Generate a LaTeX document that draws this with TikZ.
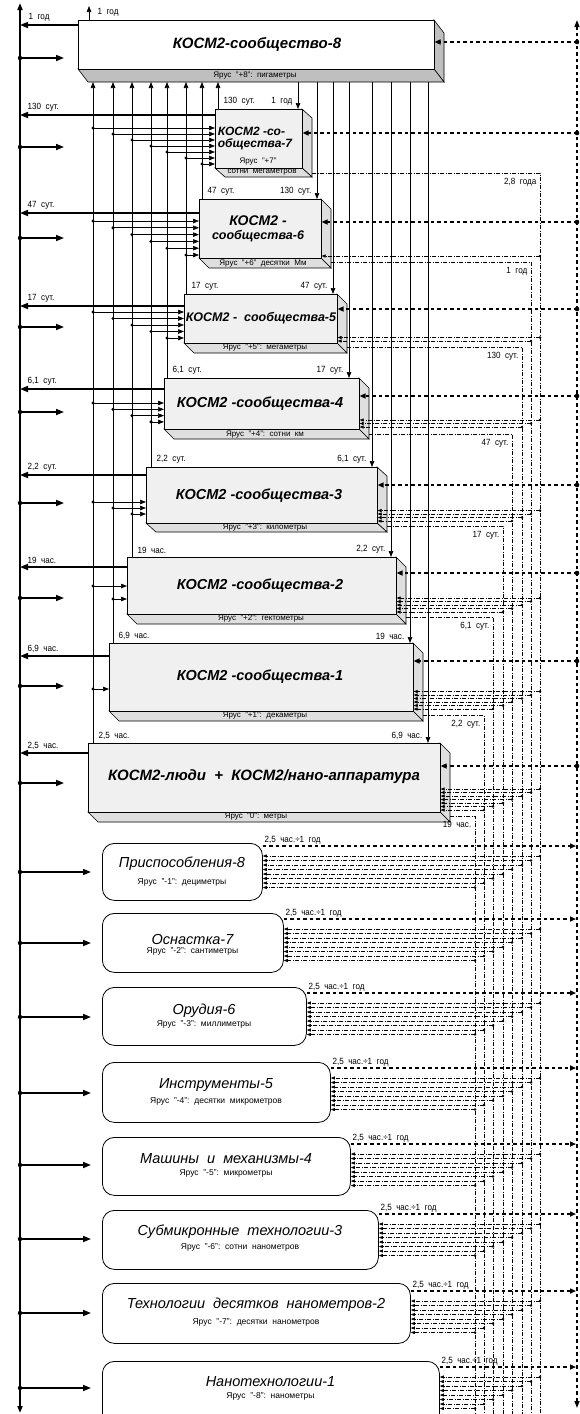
\documentclass[tikz,border=0pt]{standalone}
\usepackage{fontspec}
\setmainfont{Liberation Sans}
\newfontfamily\narrowsans[FakeStretch=0.9]{Liberation Sans}
\usetikzlibrary{arrows.meta,calc}

\tikzset{
  face/.style      = {draw, line width=0.6pt, anchor=north west, inner sep=0pt},
  side/.style      = {draw, line width=0.6pt},
  lowbox/.style    = {draw, line width=0.8pt, rounded corners=12pt, fill=white,
                      anchor=north west, inner sep=0pt},
  ttl/.style       = {font=\fontsize{14.5}{15}\selectfont\bfseries\itshape,
                      inner sep=0pt, align=center},
  lowttl/.style    = {font=\fontsize{14.5}{15}\selectfont\itshape, inner sep=0pt},
  yarus/.style     = {font=\fontsize{8}{9}\selectfont, inner sep=0pt},
  lowyarus/.style  = {font=\fontsize{8.5}{9}\selectfont, inner sep=0pt},
  tlbl/.style      = {font=\narrowsans\fontsize{9}{10}\selectfont, inner sep=0.5pt},
  axisline/.style  = {line width=1.8pt,
                      {Triangle[length=7pt,width=5pt]}-{Triangle[length=7pt,width=5pt]}},
  toaxis/.style    = {line width=1.6pt, -{Triangle[length=8pt,width=6pt]}},
  bus/.style       = {line width=0.7pt, -{Triangle[length=6pt,width=4.5pt]}},
  dashaxis/.style  = {line width=1.5pt, dash pattern=on 3.5pt off 3pt,
                      {Triangle[length=7pt,width=5pt]}-{Triangle[length=7pt,width=5pt]}},
  dasharr/.style   = {line width=1.5pt, dash pattern=on 3.5pt off 3pt,
                      -{Triangle[length=6pt,width=5pt]}},
  ddline/.style    = {line width=0.6pt, dash pattern=on 4pt off 1.5pt on 1pt off 1.5pt},
  ddarr/.style     = {ddline, -{Triangle[length=4pt,width=3pt]}},
}

\begin{document}
\begin{tikzpicture}[x=1pt, y=-1pt]
  \useasboundingbox (0,0) rectangle (580,1414);

  % ---------- axes --------------------------------------------------------
  \coordinate (axt)  at (20,3);
  \coordinate (axb)  at (20,1413);
  \coordinate (axrt) at (577,20);
  \coordinate (axrb) at (577,1408);
  \coordinate (axr)  at (576,0);
  \coordinate (sb)   at (0,82);
  \draw[axisline] (axb) -- (axt);
  \draw[dashaxis] (axrb) -- (axrt);

  % ---------- KOSM2 boxes -------------------------------------------------
  \foreach \n/\xa/\ya/\xb/\yb/\dz/\ffill/\sfill in {
      8/78/20/434/69/13/white/gray!50,
      7/215/109/302/168/9/gray!12/gray!25,
      6/199/199/321/258/10/gray!12/gray!25,
      5/184/294/337/343/10/gray!12/gray!25,
      4/164/378/359/429/10/gray!12/gray!25,
      3/146/467/377/523/9/gray!12/gray!25,
      2/127/557/396/614/10/gray!12/gray!25,
      1/109/643/413/711/10/gray!12/gray!25,
      0/88/743/440/812/10/gray!12/gray!25}{
    \pgfmathsetmacro\bw{\xb-\xa}
    \pgfmathsetmacro\bh{\yb-\ya}
    \filldraw[side, fill=\sfill] (\xb,\ya) -- (\xb+10,\ya+\dz) -- (\xb+10,\yb+\dz)
      -- (\xb,\yb) -- cycle;
    \filldraw[side, fill=\sfill] (\xa,\yb) -- (\xa+10,\yb+\dz) -- (\xb+10,\yb+\dz)
      -- (\xb,\yb) -- cycle;
    \node[face, fill=\ffill, minimum width=\bw pt, minimum height=\bh pt] (b\n)
      at (\xa,\ya) {};
  }

  \node[ttl, font=\fontsize{15}{16}\selectfont\bfseries\itshape] (t8) at (257,44)
    {КОСМ2-сообщество-8};
  \node[yarus] (y8) at (255,76) {Ярус\ \ "+8":\ \ пигаметры};
  \node[ttl, font=\fontsize{12}{12}\selectfont\bfseries\itshape, align=left] (t7)
    at (255,139) {КОСМ2 -со-\\общества-7};
  \node[yarus] (y7a) at (258,162) {Ярус\ \ "+7"};
  \node[yarus] (y7b) at (262,172) {сотни\ \ мегаметров};
  \node[ttl, font=\fontsize{14}{14}\selectfont\bfseries\itshape] (t6) at (258,229)
    {КОСМ2 -\\{\fontsize{12.5}{14}\selectfont сообщества-6}};
  \node[yarus] (y6) at (263,264) {Ярус\ \ "+6"\ \ десятки\ \ Мм};
  \node[ttl, font=\fontsize{12.5}{14}\selectfont\bfseries\itshape] (t5) at (261,318)
    {КОСМ2 -\ \ сообщества-5};
  \node[yarus] (y5) at (265,348) {Ярус\ \ "+5":\ \ мегаметры};
  \node[ttl] (t4) at (260,404) {КОСМ2 -сообщества-4};
  \node[yarus] (y4) at (265,435) {Ярус\ \ "+4":\ \ сотни\ \ км};
  \node[ttl] (t3) at (259,496) {КОСМ2 -сообщества-3};
  \node[yarus] (y3) at (265,528) {Ярус\ \ "+3":\ \ километры};
  \node[ttl] (t2) at (260,586) {КОСМ2 -сообщества-2};
  \node[yarus] (y2) at (261,619) {Ярус\ \ "+2":\ \ гектометры};
  \node[ttl] (t1) at (260,677) {КОСМ2 -сообщества-1};
  \node[yarus] (y1) at (265,716) {Ярус\ \ "+1":\ \ декаметры};
  \node[ttl, font=\fontsize{15}{16}\selectfont\bfseries\itshape] (t0) at (264,777)
    {КОСМ2-люди\ \ +\ \ КОСМ2/нано-аппаратура};
  \node[yarus] (y0) at (256,817) {Ярус\ \ "0":\ \ метры};

  % ---------- box 8: own arrows -------------------------------------------
  \coordinate (up8) at (89,20);
  \coordinate (up8e) at (89,6);
  \draw[bus] (up8) -- (up8e);
  \node[tlbl, anchor=west] (upl8) at (97,12) {1\ \ год};
  \coordinate (la8) at (78,25);
  \draw[toaxis] (la8) -- (la8 -| axt);
  \node[tlbl, anchor=south west] (lal8) at (28,22) {1\ \ год};
  \coordinate (ra8) at (20,58);
  \coordinate (rae8) at (64,58);
  \fill (ra8) circle (2.2pt);
  \draw[toaxis] (ra8) -- (rae8);

  % ---------- buses to and from box 8, left axis -------------------------
  \foreach \n/\bx/\dx/\ya/\ly/\ry/\tm/\td in {
      0/93/428/743/753/783/{2,5\ \ час.}/{6,9\ \ час.},
      1/113/410/643/656/686/{6,9\ \ час.}/{19\ \ час.},
      2/132/391/557/567/598/{19\ \ час.}/{2,2\ \ сут.},
      3/151/372/467/475/503/{2,2\ \ сут.}/{6,1\ \ сут.},
      4/167/349/378/389/412/{6,1\ \ сут.}/{17\ \ сут.},
      5/186/333/294/306/327/{17\ \ сут.}/{47\ \ сут.},
      6/202/317/199/213/238/{47\ \ сут.}/{130\ \ сут.},
      7/218/298/109/115/147/{130\ \ сут.}/{1\ \ год}}{
    \coordinate (up\n) at (\bx,\ya);
    \draw[bus] (up\n) -- (up\n |- sb);
    \node[tlbl, anchor=south west] (upl\n) at (\bx+5,\ya-3) {\tm};
    \coordinate (dn\n) at (\dx,\ya);
    \draw[bus] (dn\n |- sb) -- (dn\n);
    \node[tlbl, anchor=south east] (dnl\n) at (\dx-5,\ya-3) {\td};
    \ifnum\n>0
      \pgfmathtruncatemacro\nm{\n-1}
      \pgfmathsetmacro\brf{{0,689,586,502,403,312,221,128}[\n]}
      \pgfmathsetmacro\brs{{0,0,13,6,6.3,6.5,6.8,6}[\n]}
      \foreach \kk in {0,...,\nm}{
        \pgfmathsetmacro\kx{{93,113,132,151,167,186,202,218}[\kk]}
        \coordinate (br-\kk-\n) at (\kx,\brf+\kk*\brs);
        \fill (br-\kk-\n) circle (1.7pt);
        \draw[bus] (br-\kk-\n) -- (br-\kk-\n -| b\n.west);
      }
    \fi
    \path (b\n.north west) ++(0,\ly-\ya) coordinate (la\n);
    \draw[toaxis] (la\n) -- (la\n -| axt);
    \node[tlbl, anchor=south west] (lal\n) at (27,\ly-3) {\tm};
    \coordinate (ra\n) at (20,\ry);
    \coordinate (rae\n) at (64,\ry);
    \fill (ra\n) circle (2.2pt);
    \draw[toaxis] (ra\n) -- (rae\n);
  }

  % ---------- dash-dot lines on the right ---------------------------------
  \foreach \m/\xs/\xm/\ym/\tm in {
      7/312/540/173/{2,8\ \ года}, 6/331/531/262/{1\ \ год},
      5/347/522/347/{130\ \ сут.}, 4/369/512/434/{47\ \ сут.},
      3/387/503/526/{17\ \ сут.}, 2/406/493/617/{6,1\ \ сут.},
      1/423/484/715/{2,2\ \ сут.}, 0/450/475/816/{19\ \ час.}}{
    \coordinate (dds\m) at (\xs,\ym);
    \coordinate (ddc\m) at (\xm,\ym);
    \coordinate (dde\m) at (\xm,1414);
    \draw[ddline] (dds\m) -- (ddc\m) -- (dde\m);
    \node[tlbl, anchor=north east] (ddl\m) at (\xm-3,\ym+5) {\tm};
    \ifnum\m>0
      \pgfmathtruncatemacro\mm{\m-1}
      \foreach \jj in {0,...,\mm}{
        \pgfmathsetmacro\yy{{812,711,614,523,429,343,258,168}[\jj]-2-(\m-\jj-1)*3.5}
        \coordinate (dd-\m-\jj) at (\xm,\yy);
        \fill (dd-\m-\jj) circle (1.4pt);
        \draw[ddarr] (dd-\m-\jj) -- (dd-\m-\jj -| b\jj.east);
      }
    \fi
  }

  % ---------- dashed arrows from the right axis ---------------------------
  \foreach \n/\yy in {8/42, 7/133, 6/222, 5/309, 4/396, 3/485, 2/573, 1/661, 0/766}{
    \coordinate (da\n) at (577,\yy);
    \fill (da\n) circle (2.3pt);
    \draw[dasharr] (da\n) -- (da\n -| b\n.east);
  }

  % ---------- lower tiers -------------------------------------------------
  \foreach \lv/\ya/\xb/\bh/\ty/\sy/\ay/\ry/\ti/\su in {
      1/843/262/57/864/882/846/872/{Приспособления-8}/{Ярус\ \ "-1":\ \ дециметры},
      2/913/283/59/939/951/919/943/{Оснастка-7}/{Ярус\ \ "-2":\ \ сантиметры},
      3/987/306/58/1011/1024/993/1017/{Орудия-6}/{Ярус\ \ "-3":\ \ миллиметры},
      4/1062/330/60/1085/1101/1068/1093/{Инструменты-5}/{Ярус\ \ "-4":\ \ десятки\ \ микрометров},
      5/1137/350/58/1159/1173/1144/1165/{Машины\ \ и\ \ механизмы-4}/{Ярус\ \ "-5":\ \ микрометры},
      6/1210/378/59/1232/1247/1214/1239/{Субмикронные\ \ технологии-3}/{Ярус\ \ "-6":\ \ сотни\ \ нанометров},
      7/1283/410/60/1305/1322/1291/1313/{Технологии\ \ десятков\ \ нанометров-2}/{Ярус\ \ "-7":\ \ десятки\ \ нанометров},
      8/1361/439/70/1382/1396/1367/1388/{Нанотехнологии-1}/{Ярус\ \ "-8":\ \ нанометры}}{
    \pgfmathsetmacro\bw{\xb-102}
    \node[lowbox, minimum width=\bw pt, minimum height=\bh pt] (lb\lv) at (102,\ya) {};
    \node[lowttl] (lt\lv) at (51+\xb/2,\ty) {\ti};
    \node[lowyarus] (ly\lv) at (51+\xb/2,\sy) {\su};
    \coordinate (ra-\lv) at (20,\ry);
    \fill (ra-\lv) circle (2.2pt);
    \draw[toaxis, shorten >=11pt] (ra-\lv) -- (ra-\lv -| lb\lv.west);
    \path (lb\lv.north east) ++(0,\ay-\ya) coordinate (dl\lv);
    \draw[dasharr] (dl\lv) -- (dl\lv -| axr);
    \node[tlbl, anchor=south west] (dll\lv) at ($(dl\lv)+(1,-1)$)
      {2,5\ \ час.÷1\ \ год};
    \foreach \m in {0,...,7}{
      \pgfmathsetmacro\xm{{475,484,493,503,512,522,531,540}[\m]}
      \pgfmathsetmacro\yy{\ay+10+(7-\m)*4.5}
      \coordinate (dd-\m-l\lv) at (\xm,\yy);
      \fill (dd-\m-l\lv) circle (1.4pt);
      \draw[ddarr] (dd-\m-l\lv) -- (dd-\m-l\lv -| lb\lv.east);
    }
  }

\end{tikzpicture}
\end{document}
